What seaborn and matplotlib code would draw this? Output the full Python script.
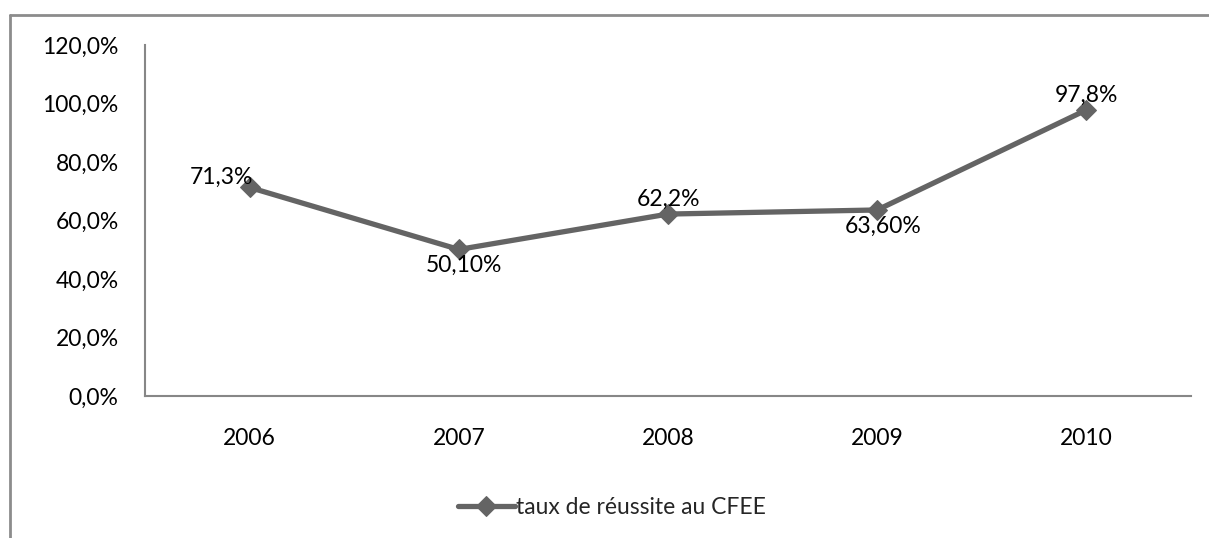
import matplotlib
matplotlib.use("Agg")
import matplotlib.pyplot as plt
import seaborn as sns
import pandas as pd
from matplotlib.lines import Line2D
from matplotlib.ticker import FuncFormatter

years = ["2006", "2007", "2008", "2009", "2010"]
rates = [0.713, 0.501, 0.622, 0.636, 0.978]
labels = ["71,3%", "50,10%", "62,2%", "63,60%", "97,8%"]
label_pos = ["above_left", "below", "above", "below", "above"]
series_name = "taux de réussite au CFEE"

sns.set_theme(style="white")
plt.rcParams['font.family'] = ['Lato', 'DejaVu Sans']
FS = 16.5

df = pd.DataFrame({"year": years, "rate": rates})

fig = plt.figure(figsize=(12.09, 5.38), dpi=100)
ax = fig.add_axes([145/1209, 1-396/538, (1191-145)/1209, (396-45)/538])

grey = "#646464"
sns.lineplot(data=df, x="year", y="rate", ax=ax, color=grey, linewidth=3.8,
             marker="D", markersize=10.5, markeredgecolor=grey, label=series_name,
             sort=False)

ax.set_ylim(0, 1.2)
ax.set_xlim(-0.5, 4.5)
ax.set_yticks([0, 0.2, 0.4, 0.6, 0.8, 1.0, 1.2])
ax.yaxis.set_major_formatter(FuncFormatter(lambda v, p: f"{v*100:.1f}%".replace(".", ",")))
ax.set_xlabel("")
ax.set_ylabel("")
ax.tick_params(axis="both", length=0, labelsize=FS, colors="black")
ax.tick_params(axis="y", pad=19)
ax.tick_params(axis="x", pad=23)
for s in ["top", "right"]:
    ax.spines[s].set_visible(False)
for s in ["left", "bottom"]:
    ax.spines[s].set_color("#878787")
    ax.spines[s].set_linewidth(1.5)
ax.grid(False)

for i, (v, t, pos) in enumerate(zip(rates, labels, label_pos)):
    if pos == "above_left":
        ax.annotate(t, (i, v), xytext=(-20, 0), textcoords="offset points",
                    ha="center", va="bottom", fontsize=FS, color="black")
    elif pos == "above":
        ax.annotate(t, (i, v), xytext=(0, 3), textcoords="offset points",
                    ha="center", va="bottom", fontsize=FS, color="black")
    else:
        ax.annotate(t, (i, v), xytext=(4, -4), textcoords="offset points",
                    ha="center", va="top", fontsize=FS, color="black")

leg = ax.legend(loc="center", bbox_to_anchor=(612/1209, 1-508/538),
                bbox_transform=fig.transFigure, frameon=False, fontsize=FS,
                handlelength=2.5, handletextpad=0.05)

bx = 10/1209
by = 1 - 15/538
fig.add_artist(Line2D([bx, 1.0], [by, by], transform=fig.transFigure,
                      color="#8c8c8c", linewidth=2))
fig.add_artist(Line2D([bx, bx], [0.0, by], transform=fig.transFigure,
                      color="#8c8c8c", linewidth=2))

fig.savefig("out.png", dpi=100)
